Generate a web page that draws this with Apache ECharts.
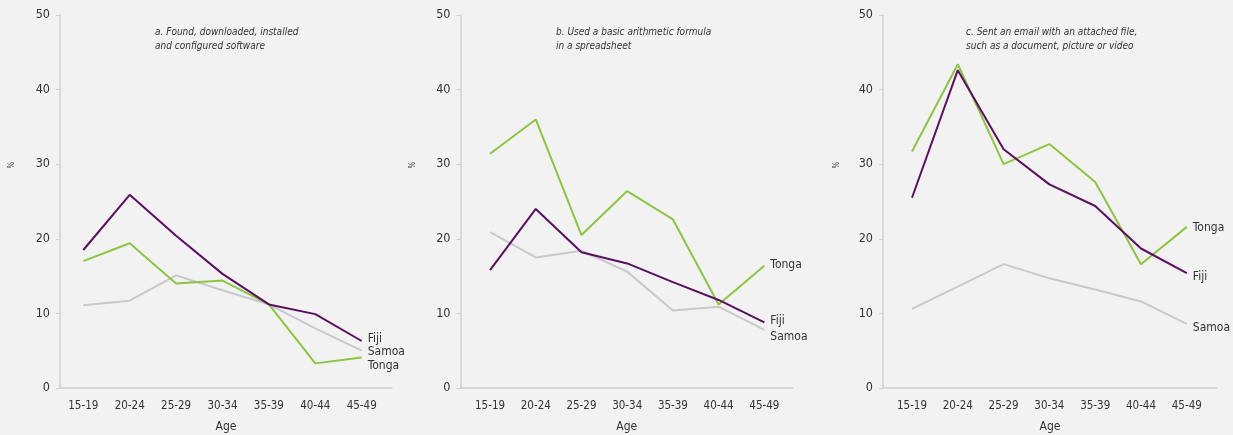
<!DOCTYPE html>
<html>
<head>
<meta charset="utf-8">
<script src="https://cdn.jsdelivr.net/npm/echarts@6/dist/echarts.min.js"></script>
<style>
  html, body { margin: 0; padding: 0; background: #f2f2f2; }
  #chart { width: 1233px; height: 435px; }
</style>
</head>
<body>
<div id="chart"></div>
<script>
// Age groups shared by all three panels
const ageGroups = ['15-19', '20-24', '25-29', '30-34', '35-39', '40-44', '45-49'];
const yTicks = [0, 10, 20, 30, 40, 50];

const panelTitles = [
  'a. Found, downloaded, installed\nand configured software',
  'b. Used a basic arithmetic formula\nin a spreadsheet',
  'c. Sent an email with an attached file,\nsuch as a document, picture or video'
];

// a. Found, downloaded, installed and configured software (%)
const softwareFiji  = [18.5, 25.9, 20.4, 15.3, 11.2, 9.9, 6.3];
const softwareSamoa = [11.1, 11.7, 15.1, 13.1, 11.2, 8.0, 5.0];
const softwareTonga = [17.0, 19.4, 14.0, 14.4, 11.2, 3.3, 4.1];

// b. Used a basic arithmetic formula in a spreadsheet (%)
const formulaFiji  = [15.8, 24.0, 18.2, 16.7, 14.2, 11.8, 8.8];
const formulaSamoa = [20.9, 17.5, 18.4, 15.6, 10.4, 10.9, 7.8];
const formulaTonga = [31.4, 36.0, 20.5, 26.4, 22.6, 11.2, 16.4];

// c. Sent an email with an attached file (%)
const emailFiji  = [25.5, 42.6, 32.0, 27.3, 24.4, 18.7, 15.4];
const emailSamoa = [10.6, 13.6, 16.6, 14.7, 13.2, 11.6, 8.6];
const emailTonga = [31.7, 43.4, 30.0, 32.7, 27.6, 16.6, 21.6];

const COLORS = { Fiji: '#5c0f62', Samoa: '#c9c9c9', Tonga: '#8cc63f' };
const FONT = '"DejaVu Sans Condensed", "Liberation Sans Narrow", "Noto Sans", sans-serif';
const TEXT = '#333333';
const AXIS = '#d0d0d0';

// Layout of each panel: frame (axis lines) and plotting band for the categories
const panels = [
  { axisLeft: 60,  axisWidth: 332, dataLeft: 60.1,  dataWidth: 324.8, titleLeft: 155, pctX: 12,
    series: { Samoa: softwareSamoa, Tonga: softwareTonga, Fiji: softwareFiji },
    offsets: { Fiji: -2, Samoa: 1, Tonga: 8 } },
  { axisLeft: 460.5, axisWidth: 332.5, dataLeft: 467.2, dataWidth: 320, titleLeft: 556, pctX: 413,
    series: { Samoa: formulaSamoa, Tonga: formulaTonga, Fiji: formulaFiji },
    offsets: { Fiji: -1, Samoa: 7, Tonga: -1 } },
  { axisLeft: 883, axisWidth: 334, dataLeft: 889.1, dataWidth: 320.6, titleLeft: 966, pctX: 837,
    series: { Samoa: emailSamoa, Tonga: emailTonga, Fiji: emailFiji },
    offsets: { Fiji: 4, Samoa: 4, Tonga: 1 } }
];

const TOP = 15, HEIGHT = 373;
const grid = [], xAxis = [], yAxis = [], series = [], title = [], graphic = [];

panels.forEach((p, i) => {
  const frameIdx = grid.length;
  // frame grid: carries the visible axis lines, y labels and axis names
  grid.push({ left: p.axisLeft, top: TOP, width: p.axisWidth, height: HEIGHT, outerBoundsMode: 'none' });
  const dataIdx = grid.length;
  // data grid: holds the category positions and the lines
  grid.push({ left: p.dataLeft, top: TOP, width: p.dataWidth, height: HEIGHT, outerBoundsMode: 'none' });

  xAxis.push({
    gridIndex: frameIdx, type: 'value', min: 0, max: 1,
    axisLine: { show: true, lineStyle: { color: AXIS, width: 1.5 } },
    axisTick: { show: false }, axisLabel: { show: false }, splitLine: { show: false },
    name: 'Age', nameLocation: 'middle', nameGap: 33,
    nameTextStyle: { color: TEXT, fontSize: 12, fontFamily: FONT }
  });
  yAxis.push({
    gridIndex: frameIdx, type: 'value', min: yTicks[0], max: yTicks[yTicks.length - 1], interval: 10,
    axisLine: { show: true, lineStyle: { color: AXIS, width: 1.5 } },
    axisTick: { show: true, length: 4, lineStyle: { color: AXIS } },
    axisLabel: { color: TEXT, fontSize: 12.5, fontFamily: FONT, margin: 10 },
    splitLine: { show: false }
  });

  const xIdx = xAxis.length;
  xAxis.push({
    gridIndex: dataIdx, type: 'category', data: ageGroups, boundaryGap: true,
    axisLine: { show: false }, axisTick: { show: false },
    axisLabel: { color: TEXT, fontSize: 11.5, fontFamily: FONT, margin: 12 }
  });
  const yIdx = yAxis.length;
  yAxis.push({
    gridIndex: dataIdx, type: 'value', min: 0, max: 50, interval: 10, show: false
  });

  Object.keys(p.series).forEach(name => {
    series.push({
      type: 'line', name: name, xAxisIndex: xIdx, yAxisIndex: yIdx,
      data: p.series[name], symbol: 'none', silent: true,
      lineStyle: { color: COLORS[name], width: 2 },
      endLabel: {
        show: true, formatter: name, distance: 6,
        offset: [0, p.offsets[name]],
        color: TEXT, fontSize: 12, fontFamily: FONT
      }
    });
  });

  title.push({
    text: panelTitles[i], left: p.titleLeft, top: 25, padding: 0,
    textStyle: { color: TEXT, fontSize: 10, fontStyle: 'italic', fontWeight: 'normal',
                 fontFamily: FONT, lineHeight: 14 }
  });

  graphic.push({
    type: 'text', x: p.pctX, y: 165, rotation: Math.PI / 2,
    style: { text: '%', fill: TEXT, fontSize: 8, fontFamily: FONT, align: 'center', verticalAlign: 'middle' }
  });
});

const chart = echarts.init(document.getElementById('chart'));
chart.setOption({
  backgroundColor: '#f2f2f2',
  animation: false,
  title, grid, xAxis, yAxis, series, graphic
});
</script>
</body>
</html>
